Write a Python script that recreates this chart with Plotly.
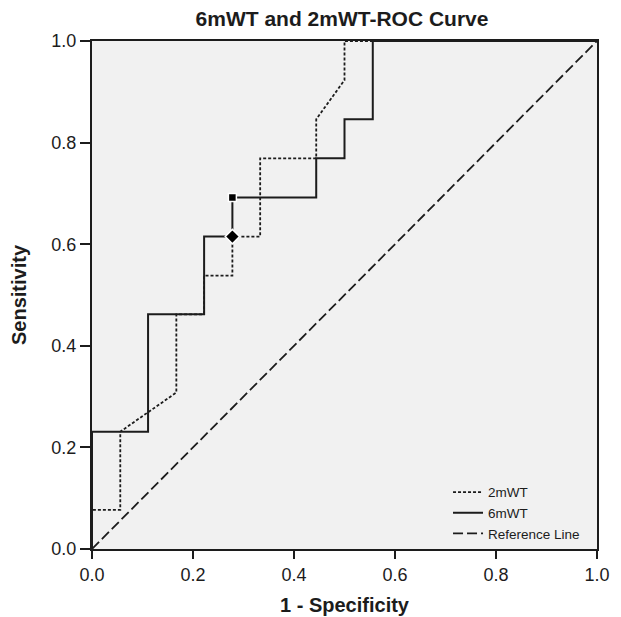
import plotly.graph_objects as go

# 2mWT ROC curve points (1 - specificity, sensitivity)
fpr_2mwt = [0.0, 0.0, 0.056, 0.056, 0.167, 0.167, 0.222, 0.222, 0.278, 0.278,
            0.333, 0.333, 0.444, 0.444, 0.5, 0.5, 1.0]
tpr_2mwt = [0.0, 0.077, 0.077, 0.231, 0.308, 0.462, 0.462, 0.538, 0.538, 0.615,
            0.615, 0.769, 0.769, 0.846, 0.923, 1.0, 1.0]

# 6mWT ROC curve points
fpr_6mwt = [0.0, 0.0, 0.111, 0.111, 0.222, 0.222, 0.278, 0.278, 0.444, 0.444,
            0.5, 0.5, 0.556, 0.556, 1.0]
tpr_6mwt = [0.0, 0.231, 0.231, 0.462, 0.462, 0.615, 0.615, 0.692, 0.692, 0.769,
            0.769, 0.846, 0.846, 1.0, 1.0]

# Reference line
ref_x = [0.0, 1.0]
ref_y = [0.0, 1.0]

# Cut-off points
cut_6mwt = (0.278, 0.692)
cut_2mwt = (0.278, 0.615)

tick_vals = [0.0, 0.2, 0.4, 0.6, 0.8, 1.0]
tick_text = ["0.0", "0.2", "0.4", "0.6", "0.8", "1.0"]

FONT = "Liberation Sans, Arial, sans-serif"
INK = "#1c1c1c"

fig = go.Figure()
fig.add_trace(go.Scatter(x=fpr_2mwt, y=tpr_2mwt, mode="lines", name="2mWT",
                         line=dict(color=INK, width=1.8, dash="3px,2px")))
fig.add_trace(go.Scatter(x=fpr_6mwt, y=tpr_6mwt, mode="lines", name="6mWT",
                         line=dict(color=INK, width=2)))
fig.add_trace(go.Scatter(x=ref_x, y=ref_y, mode="lines", name="Reference Line",
                         line=dict(color=INK, width=1.8, dash="10px,4px")))
fig.add_trace(go.Scatter(x=[cut_6mwt[0]], y=[cut_6mwt[1]], mode="markers", showlegend=False,
                         marker=dict(symbol="square", size=8, color="black",
                                     line=dict(color="white", width=1.5))))
fig.add_trace(go.Scatter(x=[cut_2mwt[0]], y=[cut_2mwt[1]], mode="markers", showlegend=False,
                         marker=dict(symbol="diamond", size=11, color="black",
                                     line=dict(color="white", width=1.5))))

axis_common = dict(
    range=[0, 1], tickvals=tick_vals, ticktext=tick_text,
    ticks="outside", tickwidth=1.5, tickcolor=INK,
    showline=True, linecolor=INK, linewidth=2, mirror=True,
    showgrid=False, zeroline=False, automargin=False,
    tickfont=dict(family=FONT, size=18, color=INK),
)

# page body has an 8px margin, so the figure is sized to fit inside it
fig.update_layout(
    width=613, height=609,
    margin=dict(l=84, r=24, t=33, b=68),
    paper_bgcolor="white", plot_bgcolor="#f1f1f1",
    title=dict(text="<b>6mWT and 2mWT-ROC Curve</b>", x=(342 - 8) / 613, xanchor="center",
               y=1 - 11 / 609, yanchor="middle", yref="container",
               font=dict(family=FONT, size=21, color=INK)),
    xaxis=dict(axis_common, ticklen=8,
               title=dict(text="<b>1 - Specificity</b>", standoff=14,
                          font=dict(family=FONT, size=20, color=INK))),
    yaxis=dict(axis_common, ticklen=10,
               title=dict(text="<b>Sensitivity</b>", standoff=19,
                          font=dict(family=FONT, size=20, color=INK))),
    legend=dict(x=0.705, y=0.071, xanchor="left", yanchor="middle",
                bgcolor="rgba(0,0,0,0)", borderwidth=0,
                font=dict(family=FONT, size=13.5, color=INK),
                itemwidth=30, tracegroupgap=0),
    showlegend=True,
)

fig.write_html("out.html")
